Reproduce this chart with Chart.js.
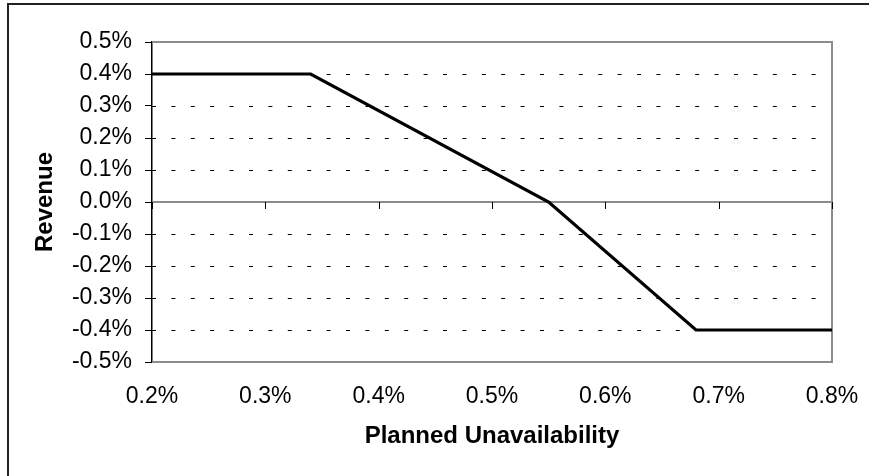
<!DOCTYPE html>
<html>
<head>
<meta charset="utf-8">
<title>Revenue vs Planned Unavailability</title>
<script src="https://cdn.jsdelivr.net/npm/chart.js@4/dist/chart.umd.min.js"></script>
<style>
  html, body { margin: 0; padding: 0; background: #fff; overflow: hidden; }
  #wrap { position: relative; width: 869px; height: 476px; }
  #frame {
    position: absolute; left: 7px; top: 3px; width: 900px; height: 500px;
    border-left: 2px solid #222; border-top: 2px solid #222; box-sizing: border-box;
    pointer-events: none;
  }
  canvas { position: absolute; left: 0; top: 0; }
</style>
</head>
<body>
<div id="wrap">
  <canvas id="chart" width="869" height="476"></canvas>
  <div id="frame"></div>
</div>
<script>
// Planned unavailability (%) and the corresponding revenue adjustment (%)
const unavailability = [0.2, 0.34, 0.55, 0.68, 0.8];
const revenue = [0.4, 0.4, 0.0, -0.4, -0.4];

// Axis ranges and tick spacing (percent)
const xMin = 0.2, xMax = 0.8, xStep = 0.1;
const yMin = -0.5, yMax = 0.5, yStep = 0.1;

const xTitle = 'Planned Unavailability';
const yTitle = 'Revenue';

const FONT = 'Liberation Sans, Arial, sans-serif';

const pct = v => (Math.abs(v) < 1e-9 ? 0 : v).toFixed(1) + '%';

// Dashed grid, grey plot frame, zero axis and its tick marks
const plotDecor = {
  id: 'plotDecor',
  beforeDatasetsDraw(chart) {
    const { ctx, chartArea: a, scales: { x, y } } = chart;
    ctx.save();
    // dashed horizontal gridlines
    ctx.strokeStyle = '#000';
    ctx.lineWidth = 1;
    ctx.setLineDash([4, 15.4]);
    y.ticks.forEach(t => {
      const v = t.value;
      if (Math.abs(v) < 1e-9 || Math.abs(v - yMax) < 1e-9 || Math.abs(v - yMin) < 1e-9) return;
      const py = Math.round(y.getPixelForValue(v)) + 0.5;
      ctx.beginPath();
      ctx.moveTo(a.left, py);
      ctx.lineTo(a.right, py);
      ctx.stroke();
    });
    ctx.setLineDash([]);
    // grey frame: top, right, bottom
    ctx.strokeStyle = '#8c8c8c';
    ctx.lineWidth = 2;
    ctx.beginPath();
    ctx.moveTo(a.left, a.top);
    ctx.lineTo(a.right, a.top);
    ctx.lineTo(a.right, a.bottom);
    ctx.lineTo(a.left, a.bottom);
    ctx.stroke();
    // horizontal axis crossing at zero
    const y0 = y.getPixelForValue(0);
    ctx.beginPath();
    ctx.moveTo(a.left, y0);
    ctx.lineTo(a.right, y0);
    ctx.stroke();
    // tick marks hanging below the zero axis
    ctx.strokeStyle = '#000';
    ctx.lineWidth = 1;
    x.ticks.forEach(t => {
      const px = Math.round(x.getPixelForValue(t.value)) + 0.5;
      ctx.beginPath();
      ctx.moveTo(px, y0);
      ctx.lineTo(px, y0 + 7);
      ctx.stroke();
    });
    ctx.restore();
  }
};

new Chart(document.getElementById('chart'), {
  type: 'scatter',
  data: {
    datasets: [{
      data: unavailability.map((u, i) => ({ x: u, y: revenue[i] })),
      showLine: true,
      borderColor: '#000',
      borderWidth: 3.2,
      pointRadius: 0,
      fill: false,
      tension: 0
    }]
  },
  options: {
    responsive: false,
    animation: false,
    layout: { padding: { left: 0, top: 42, right: 37, bottom: 0 } },
    plugins: { legend: { display: false }, tooltip: { enabled: false } },
    scales: {
      x: {
        type: 'linear',
        min: xMin, max: xMax,
        afterFit(s) { s.height = 114; s.paddingLeft = 0; s.paddingRight = 0; },
        ticks: {
          stepSize: xStep,
          color: '#000',
          padding: 21,
          maxRotation: 0,
          font: { family: FONT, size: 23 },
          callback: v => pct(v)
        },
        grid: { display: false, drawTicks: false },
        border: { display: false },
        title: {
          display: true,
          text: xTitle,
          color: '#000',
          font: { family: FONT, size: 24, weight: 'bold' },
          padding: { top: 0, bottom: 25 }
        }
      },
      y: {
        type: 'linear',
        min: yMin, max: yMax,
        afterFit(s) { s.width = 152; s.paddingTop = 0; s.paddingBottom = 0; },
        ticks: {
          stepSize: yStep,
          color: '#000',
          padding: 13,
          font: { family: FONT, size: 23 },
          callback: v => pct(v)
        },
        grid: {
          display: true,
          drawOnChartArea: false,
          drawTicks: true,
          tickLength: 7,
          tickColor: '#000',
          tickWidth: 1
        },
        border: { display: true, color: '#000', width: 1.5 },
        title: {
          display: true,
          text: yTitle,
          color: '#000',
          font: { family: FONT, size: 24, weight: 'bold' },
          padding: { top: 31, bottom: 0 }
        }
      }
    }
  },
  plugins: [plotDecor]
});
</script>
</body>
</html>
